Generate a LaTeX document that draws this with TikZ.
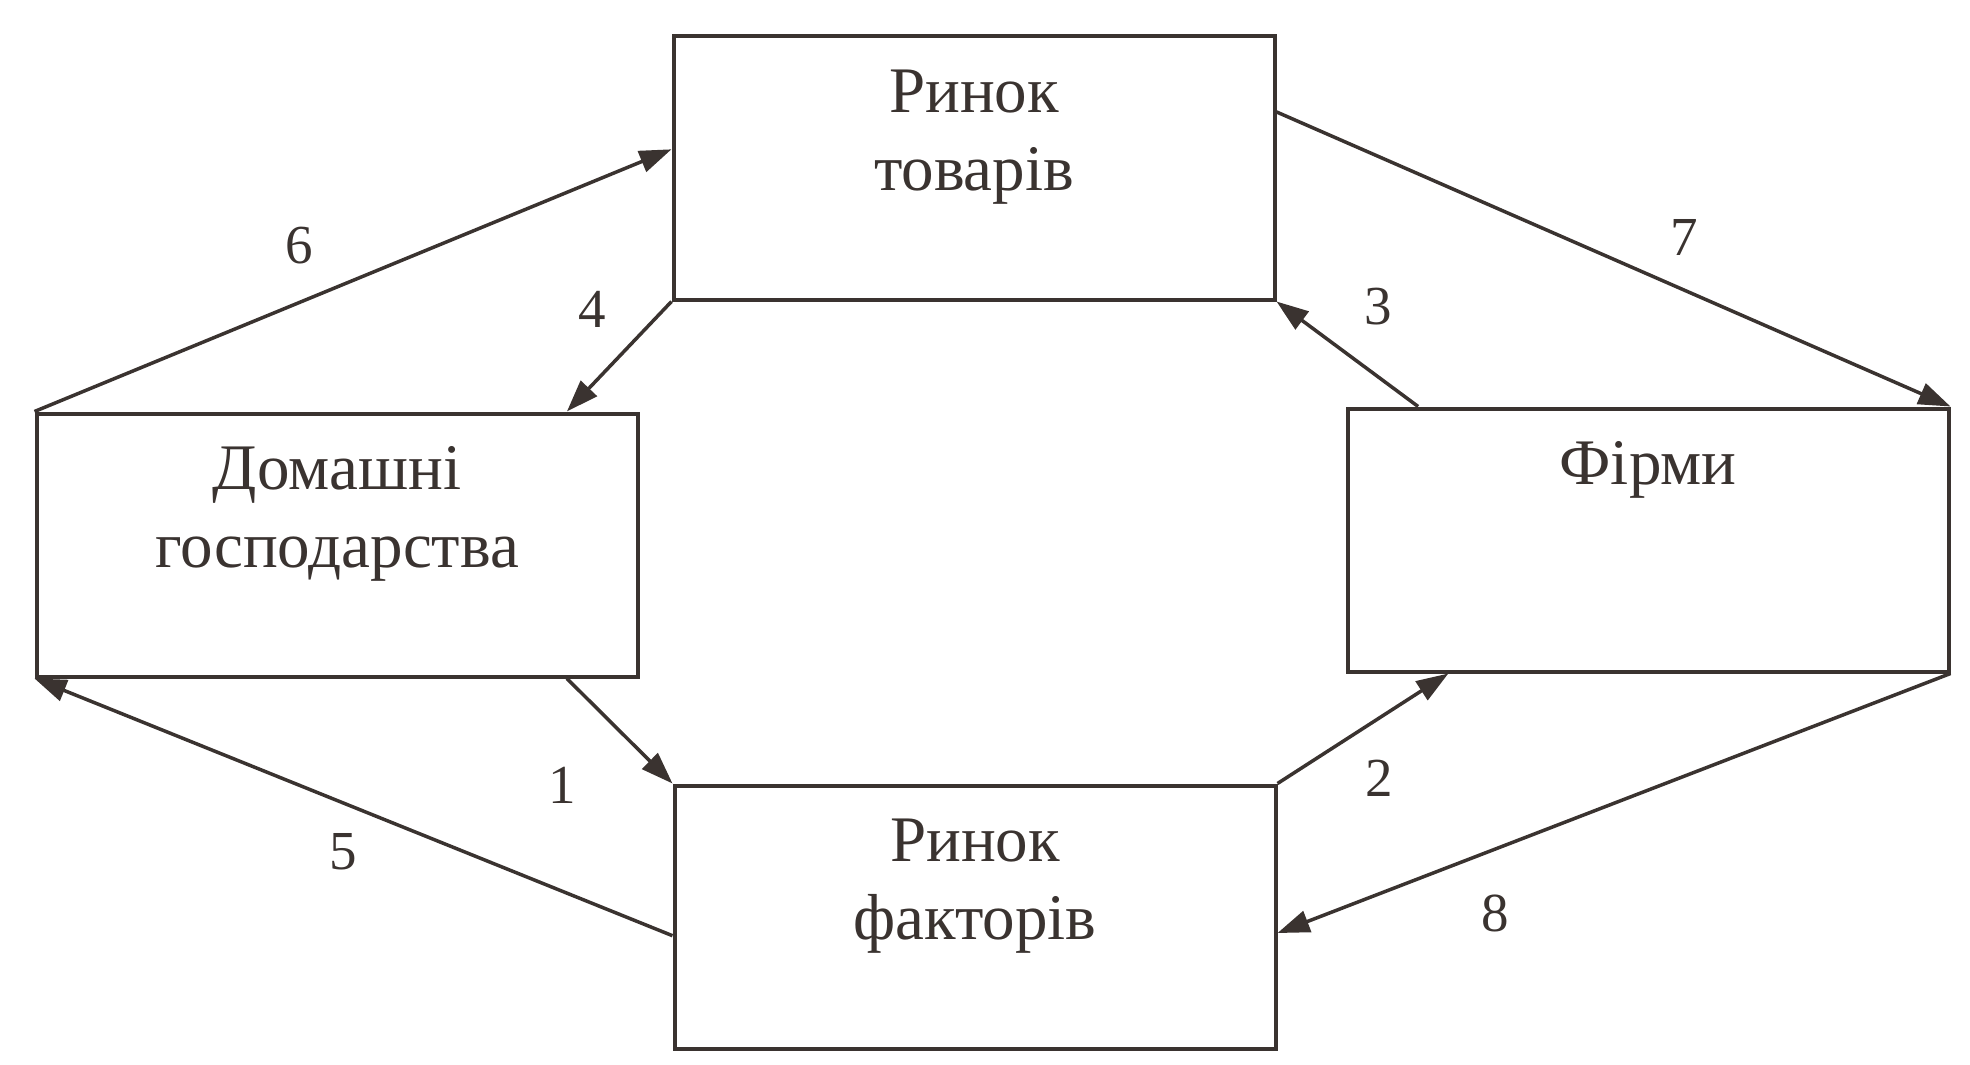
\documentclass[tikz,border=0pt]{standalone}
\usepackage{fontspec}
\setmainfont{Liberation Serif}
\usetikzlibrary{arrows.meta,calc}
\definecolor{ink}{HTML}{3A3330}
\begin{document}
\begin{tikzpicture}[x=1pt,y=-1pt,
  box/.style={draw=ink,line width=4pt,minimum width=601pt,minimum height=263pt,inner sep=0pt},
  boxtext/.style={anchor=north,inner sep=0pt,align=center,text=ink,
    font=\fontsize{65}{78}\selectfont},
  num/.style={text=ink,inner sep=0pt,font=\fontsize{55}{60}\selectfont},
  flow/.style={draw=ink,line width=3.5pt,-{Triangle[length=32pt,width=22pt]}}]
\useasboundingbox (0,0) rectangle (1970,1065);
% boxes
\node[box] (T) at (974,168) {};
\node[box] (H) at (337,545) {};
\node[box] (F) at (1648,540) {};
\node[box] (B) at (975,917) {};
% texts
\node[boxtext] (tT) at ([yshift=-35pt]T.north) {Ринок\\товарів};
\node[boxtext] (tH) at ([yshift=-35pt]H.north) {Домашні\\господарства};
\node[boxtext] (tF) at ([yshift=-35pt]F.north) {Фірми};
\node[boxtext] (tB) at ([yshift=-35pt]B.north) {Ринок\\факторів};
% attachment points
\coordinate (p6) at ($(T.north west)!0.43!(T.south west)$);
\coordinate (p4) at ($(H.north west)!0.88!(H.north east)$);
\coordinate (p7) at ($(T.north east)!0.29!(T.south east)$);
\coordinate (p3) at ($(F.north west)!0.12!(F.north east)$);
\coordinate (p1) at ($(H.south west)!0.88!(H.south east)$);
\coordinate (p5) at ($(B.north west)!0.57!(B.south west)$);
\coordinate (p2) at ($(F.south west)!0.17!(F.south east)$);
\coordinate (p8) at ($(B.north east)!0.56!(B.south east)$);
% connectors
\draw[flow] (H.north west) -- (p6);
\draw[flow] (T.south west) -- (p4);
\draw[flow] (p7) -- (F.north east);
\draw[flow] (p3) -- (T.south east);
\draw[flow] (p1) -- (B.north west);
\draw[flow] (p5) -- (H.south west);
\draw[flow] (B.north east) -- (p2);
\draw[flow] (F.south east) -- (p8);
% labels
\node[num] (n6) at (299,246) {6};
\node[num] (n4) at (592,309) {4};
\node[num] (n7) at (1684,237) {7};
\node[num] (n3) at (1378,307) {3};
\node[num] (n1) at (562,785) {1};
\node[num] (n5) at (343,852) {5};
\node[num] (n2) at (1379,778) {2};
\node[num] (n8) at (1495,913) {8};
\end{tikzpicture}
\end{document}
